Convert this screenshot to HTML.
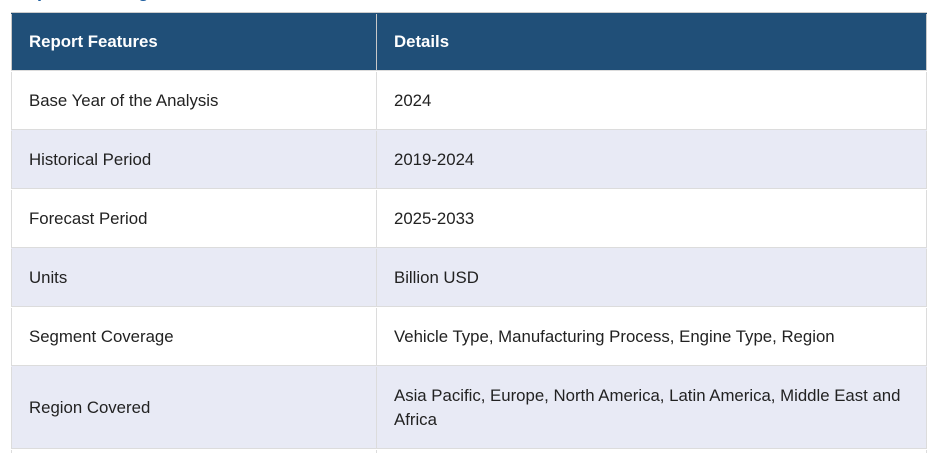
<!DOCTYPE html>
<html><head><style>
html,body{margin:0;width:937px;height:453px;overflow:hidden}
body{background:#fff;font-family:"Liberation Sans",Arial,sans-serif;font-size:16.8px;color:#222;position:relative}
.r{position:absolute;left:11px;width:916px;border-bottom:1px solid #dcdcdc;box-sizing:border-box}
.c{position:absolute;top:1px;bottom:0;display:flex;align-items:center;box-sizing:border-box}
.a{left:0;width:366px;padding-left:17px;border-left:1px solid #dcdcdc;border-right:1px solid #dcdcdc}
.b{left:366px;right:0;padding-left:17px;padding-right:15px;border-right:1px solid #dcdcdc;line-height:24px}
.h{background:#204f78;color:#fff;font-weight:bold;border-top:1px solid #ccc}
.h .a,.h .b{border-color:#c8c8c8}
.g{background:#e8eaf5}
</style></head><body>
<div style="position:absolute;left:14px;top:-19px;color:#1f5fa0;font-weight:bold;font-size:18px">Report Coverage</div>
<div class="r h" style="top:12px;height:59px"><div class="c a">Report Features</div><div class="c b">Details</div></div>
<div class="r" style="top:71px;height:59px"><div class="c a">Base Year of the Analysis</div><div class="c b">2024</div></div>
<div class="r g" style="top:130px;height:59px"><div class="c a">Historical Period</div><div class="c b">2019-2024</div></div>
<div class="r" style="top:189px;height:59px"><div class="c a">Forecast Period</div><div class="c b">2025-2033</div></div>
<div class="r g" style="top:248px;height:59px"><div class="c a">Units</div><div class="c b">Billion USD</div></div>
<div class="r" style="top:307px;height:59px"><div class="c a">Segment Coverage</div><div class="c b">Vehicle Type, Manufacturing Process, Engine Type, Region</div></div>
<div class="r g" style="top:366px;height:83px"><div class="c a">Region Covered</div><div class="c b">Asia Pacific, Europe, North America, Latin America, Middle East and Africa</div></div>
<div class="r" style="top:449px;height:20px"><div class="c a"></div><div class="c b"></div></div>
</body></html>
